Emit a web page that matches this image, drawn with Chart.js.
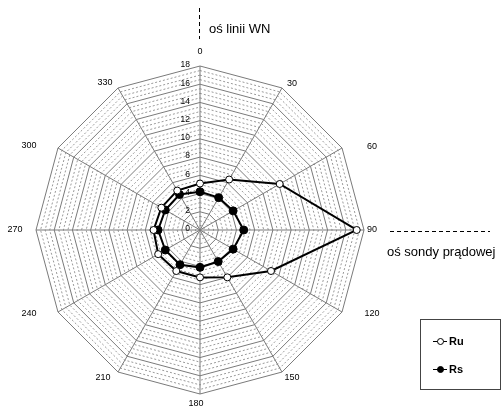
<!DOCTYPE html>
<html lang="pl">
<head>
<meta charset="UTF-8">
<title>radar Ru Rs</title>
<script src="https://cdn.jsdelivr.net/npm/chart.js"></script>
<style>
  body { margin: 0; background: #fff; font-family: "Liberation Sans", Arial, sans-serif; }
  #wrap { position: relative; width: 503px; height: 410px; overflow: hidden; }
  #myChart { position: absolute; left: 0; top: 0; }
  .note { position: absolute; font-size: 13px; color: #000; white-space: nowrap; line-height: 1; }
  .vdash { position: absolute; left: 199px; top: 8px; width: 1px; height: 31px;
    background: repeating-linear-gradient(to bottom, #000 0 4px, transparent 4px 7px); }
  .hdash { position: absolute; left: 390px; top: 231px; width: 100px; height: 1px;
    background: repeating-linear-gradient(to right, #000 0 4px, transparent 4px 7px); }
  #legend { position: absolute; left: 420px; top: 319px; width: 81px; height: 71px;
    border: 1px solid #444; box-sizing: border-box; }
  .item { position: absolute; left: 12px; height: 12px; font-size: 11px; font-weight: bold; }
  .item .ln { position: absolute; left: 0; top: 5px; width: 14px; height: 1px; background: #000; }
  .item .mk { position: absolute; left: 4px; top: 2px; width: 5px; height: 5px; border: 1px solid #000; border-radius: 50%; }
  .item .tx { position: absolute; left: 16px; top: -1px; }
</style>
</head>
<body>
<div id="wrap">
  <canvas id="myChart" width="503" height="410"></canvas>
  <div class="vdash"></div>
  <div class="note" style="left:209px; top:22px;">oś linii WN</div>
  <div class="hdash"></div>
  <div class="note" style="left:387px; top:245px;">oś sondy prądowej</div>
  <div id="legend">
    <div class="item" style="top:16px;"><div class="ln"></div><div class="mk" style="background:#fff"></div><span class="tx">Ru</span></div>
    <div class="item" style="top:44px;"><div class="ln"></div><div class="mk" style="background:#000"></div><span class="tx">Rs</span></div>
  </div>
</div>

<script>
// katy (stopnie)
const angles = ['0', '30', '60', '90', '120', '150', '180', '210', '240', '270', '300', '330']
// Ru - kolka biale
const ruValues = [5.1, 6.4, 10.1, 17.2, 9.0, 6.0, 5.2, 5.2, 5.3, 5.1, 4.9, 5.0]
// Rs - kolka czarne
const rsValues = [4.2, 4.1, 4.2, 4.8, 4.2, 4.0, 4.1, 4.4, 4.4, 4.6, 4.4, 4.5]
// opisy osi promieniowej
const tickLabels = [0, 2, 4, 6, 8, 10, 12, 14, 16, 18]

// przesuniecia opisow katow wzgledem wierzcholkow
const labelShift = [[0, -14], [10, -4], [30, -1], [8, 0], [30, 2], [10, 5],
  [-4, 10], [-15, 5], [-29, 2], [-21, 0], [-29, -2], [-13, -5]]

const axisText = {
  id: 'axisText',
  beforeDatasetsDraw(chart) {
    const s = chart.scales.r
    const ctx = chart.ctx
    ctx.save()
    ctx.fillStyle = '#000'
    ctx.font = '8.5px "Liberation Sans", Arial, sans-serif'
    ctx.textAlign = 'right'
    ctx.textBaseline = 'middle'
    tickLabels.forEach(v => {
      const d = s.getDistanceFromCenterForValue(v)
      ctx.fillText(String(v), s.xCenter - 10, s.yCenter - d - 1)
    })
    ctx.font = '9px "Liberation Sans", Arial, sans-serif'
    ctx.textAlign = 'center'
    angles.forEach((a, i) => {
      const p = s.getPointPosition(i, s.drawingArea)
      ctx.fillText(a, p.x + labelShift[i][0], p.y + labelShift[i][1])
    })
    ctx.restore()
  }
}

const ctx = document.getElementById('myChart')
const myChart = new Chart(ctx, {
  type: 'radar',
  data: {
    labels: angles,
    datasets: [{
      label: 'Ru',
      data: ruValues,
      borderColor: '#000',
      borderWidth: 2,
      fill: false,
      pointBackgroundColor: '#fff',
      pointBorderColor: '#000',
      pointBorderWidth: 1,
      pointRadius: 3.5
    }, {
      label: 'Rs',
      data: rsValues,
      borderColor: '#000',
      borderWidth: 2,
      fill: false,
      pointBackgroundColor: '#000',
      pointBorderColor: '#000',
      pointBorderWidth: 1,
      pointRadius: 4
    }]
  },
  plugins: [axisText],
  options: {
    responsive: false,
    animation: false,
    layout: { padding: { left: 36, right: 138, top: 66, bottom: 15 } },
    plugins: { legend: { display: false }, tooltip: { enabled: false } },
    elements: { line: { tension: 0 } },
    scales: {
      r: {
        min: 0,
        max: 18,
        ticks: { stepSize: 0.5, display: false },
        pointLabels: { display: false },
        angleLines: { color: '#7a7a7a', lineWidth: 1 },
        grid: {
          color: c => (c.tick && c.tick.value % 2 === 0) ? '#7a7a7a' : '#9a9a9a',
          lineWidth: 1
        },
        border: {
          dash: c => (c.tick && c.tick.value % 2 === 0) ? [] : [2, 2]
        }
      }
    }
  }
})
</script>
</body>
</html>
